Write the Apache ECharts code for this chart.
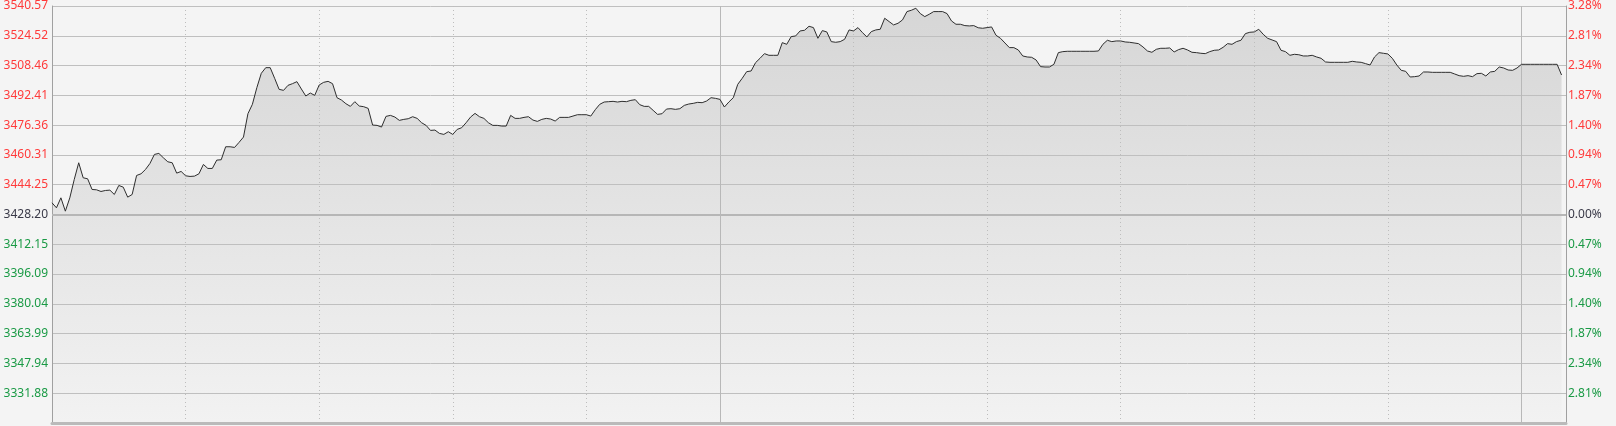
<!DOCTYPE html>
<html>
<head>
<meta charset="utf-8">
<title>分时图</title>
<script src="https://cdn.jsdelivr.net/npm/echarts@6/dist/echarts.min.js"></script>
<style>
 html, body { margin: 0; padding: 0; background: #f4f4f4; }
 #chart { width: 1616px; height: 426px; }
</style>
</head>
<body>
<div id="chart"></div>
<script>
/** 数据 **/
var preClose = 3428.20;
var priceMin = 3315.83;
var priceMax = 3540.57;

// 左侧刻度 (从上到下)
var leftLabels = ['3540.57', '3524.52', '3508.46', '3492.41', '3476.36', '3460.31', '3444.25',
  '3428.20', '3412.15', '3396.09', '3380.04', '3363.99', '3347.94', '3331.88'];
// 右侧刻度 (从上到下)
var rightLabels = ['3.28%', '2.81%', '2.34%', '1.87%', '1.40%', '0.94%', '0.47%',
  '0.00%', '0.47%', '0.94%', '1.40%', '1.87%', '2.34%', '2.81%'];

// 分时价格, 每分钟一个点
var prices = [
  3434.50, 3431.80, 3437.19, 3430.00, 3437.19, 3447.09, 3456.08, 3447.99, 3447.45, 3441.69,
  3441.51, 3440.61, 3441.15, 3441.33, 3438.99, 3443.85, 3442.95, 3437.55, 3438.99, 3449.24,
  3450.14, 3452.48, 3455.72, 3460.58, 3461.12, 3458.78, 3456.62, 3456.08, 3450.50, 3451.40,
  3449.06, 3448.71, 3448.89, 3450.14, 3455.18, 3453.02, 3453.02, 3457.52, 3457.70, 3464.71,
  3464.71, 3464.35, 3467.05, 3469.93, 3482.52, 3487.56, 3496.55, 3504.29, 3507.34, 3507.34,
  3501.59, 3495.65, 3495.11, 3497.81, 3498.71, 3499.79, 3495.83, 3492.05, 3493.67, 3492.41,
  3497.99, 3499.43, 3499.97, 3498.71, 3491.15, 3489.90, 3487.92, 3486.48, 3489.00, 3486.66,
  3486.30, 3485.40, 3476.41, 3476.23, 3475.33, 3481.08, 3481.62, 3480.72, 3478.92, 3479.46,
  3479.82, 3480.90, 3480.00, 3477.66, 3476.23, 3473.53, 3473.71, 3471.91, 3471.37, 3472.81,
  3471.37, 3474.07, 3474.97, 3477.66, 3480.72, 3482.70, 3480.90, 3480.00, 3477.66, 3476.23,
  3476.23, 3475.87, 3475.87, 3481.62, 3480.00, 3480.00, 3480.54, 3480.90, 3479.10, 3478.38,
  3479.46, 3480.00, 3479.64, 3478.56, 3480.54, 3480.54, 3480.54, 3481.26, 3481.98, 3481.98,
  3481.98, 3481.26, 3484.68, 3487.56, 3488.82, 3489.00, 3489.18, 3488.82, 3489.18, 3489.00,
  3489.72, 3490.08, 3487.38, 3486.48, 3486.48, 3484.32, 3482.16, 3482.52, 3485.04, 3485.22,
  3484.86, 3485.22, 3487.02, 3487.74, 3488.10, 3488.64, 3488.46, 3489.36, 3491.15, 3490.79,
  3490.26, 3486.12, 3488.82, 3491.15, 3498.35, 3501.59, 3505.18, 3505.54, 3510.04, 3512.38,
  3514.90, 3514.00, 3514.00, 3514.00, 3520.83, 3519.93, 3524.07, 3524.43, 3527.13, 3527.49,
  3529.65, 3528.93, 3523.17, 3527.31, 3526.59, 3521.37, 3521.01, 3521.37, 3522.63, 3527.67,
  3527.13, 3528.93, 3526.23, 3523.89, 3526.77, 3527.67, 3528.03, 3533.96, 3532.16, 3530.37,
  3531.27, 3533.06, 3537.56, 3538.28, 3539.36, 3536.48, 3534.86, 3536.12, 3537.56, 3537.56,
  3537.56, 3536.48, 3532.52, 3530.73, 3530.73, 3530.01, 3529.83, 3530.01, 3528.84, 3528.57,
  3528.93, 3529.29, 3524.79, 3523.17, 3520.65, 3518.14, 3518.14, 3516.88, 3513.64, 3513.10,
  3512.92, 3511.48, 3507.88, 3507.70, 3507.70, 3509.14, 3515.44, 3515.98, 3516.16, 3516.16,
  3516.16, 3516.16, 3516.16, 3516.16, 3516.16, 3516.34, 3519.93, 3522.09, 3521.37, 3521.73,
  3521.73, 3521.19, 3521.01, 3520.65, 3520.29, 3518.50, 3516.34, 3515.62, 3517.24, 3517.78,
  3517.78, 3517.96, 3515.80, 3517.06, 3517.78, 3516.88, 3515.62, 3515.44, 3515.08, 3514.90,
  3515.98, 3516.70, 3516.88, 3518.31, 3520.29, 3519.93, 3521.37, 3522.09, 3525.69, 3526.41,
  3526.59, 3528.03, 3525.33, 3523.17, 3522.27, 3521.37, 3516.70, 3515.98, 3514.00, 3514.54,
  3514.30, 3513.64, 3513.64, 3514.00, 3513.10, 3512.38, 3510.40, 3510.22, 3510.22, 3510.22,
  3510.22, 3510.22, 3510.76, 3510.40, 3510.22, 3509.50, 3508.78, 3513.10, 3515.44, 3515.08,
  3514.72, 3512.38, 3508.78, 3505.90, 3505.36, 3502.31, 3502.49, 3502.85, 3505.00, 3505.00,
  3504.82, 3504.82, 3504.82, 3504.82, 3504.82, 3503.93, 3503.03, 3502.67, 3503.03, 3502.49,
  3504.11, 3504.29, 3502.85, 3505.00, 3505.36, 3507.70, 3507.16, 3506.08, 3505.90, 3507.16,
  3509.14, 3509.14, 3509.14, 3509.14, 3509.14, 3509.14, 3509.14, 3509.14, 3509.14, 3503.39
];

// 实线分隔的分钟位置
var sessionBreaks = [150, 330];

/** 绘制 **/
var chart = echarts.init(document.getElementById('chart'));

var lineData = prices.map(function(p, i) { return [i, p]; });

function labelColor(index) {
  if (index < 7) return '#ff3a3a';
  if (index === 7) return '#3a3a48';
  return '#1a9a45';
}

var option = {
  backgroundColor: '#f4f4f4',
  animation: false,
  grid: {
    left: 52,
    right: 50,
    top: 5,
    bottom: 3
  },
  xAxis: {
    type: 'value',
    z: 3,
    min: 0,
    max: 340,
    interval: 30,
    axisLine: { show: true, onZero: false, lineStyle: { color: '#bababa', width: 3 } },
    axisTick: { show: false },
    axisLabel: { show: false },
    splitLine: { show: true, lineStyle: { color: '#bdbdbd', type: [1, 3], width: 1 } }
  },
  yAxis: [
    {
      // 左侧价格刻度
      type: 'value',
      z: 3,
      min: 0,
      max: 14,
      interval: 1,
      position: 'left',
      axisLine: { show: true, lineStyle: { color: '#a0a0a0', width: 1 } },
      axisTick: { show: false },
      splitLine: { show: true, lineStyle: { color: '#bfbfbf', width: 1 } },
      axisLabel: {
        margin: 4,
        fontFamily: 'Noto Sans',
        fontSize: 12,
        padding: [3, 0, 0, 0],
        formatter: function(v) {
          var idx = 14 - v;
          return idx < leftLabels.length ? leftLabels[idx] : '';
        },
        color: function(v) { return labelColor(14 - v); }
      }
    },
    {
      // 右侧涨跌幅
      type: 'value',
      z: 3,
      min: 0,
      max: 14,
      interval: 1,
      position: 'right',
      axisLine: { show: true, lineStyle: { color: '#a0a0a0', width: 1 } },
      axisTick: { show: false },
      splitLine: { show: false },
      axisLabel: {
        margin: 2,
        fontFamily: 'Noto Sans',
        fontSize: 12,
        padding: [3, 0, 0, 0],
        formatter: function(v) {
          var idx = 14 - v;
          return idx < rightLabels.length ? rightLabels[idx] : '';
        },
        color: function(v) { return labelColor(14 - v); }
      }
    },
    {
      // 价格 (隐藏)
      type: 'value',
      min: priceMin,
      max: priceMax,
      show: false,
      splitLine: { show: false }
    }
  ],
  series: [
    {
      // 填充区域, 在网格线之下
      type: 'line',
      z: 1,
      yAxisIndex: 2,
      data: lineData,
      showSymbol: false,
      symbol: 'none',
      silent: true,
      lineStyle: { width: 0 },
      areaStyle: {
        origin: 'start',
        opacity: 1,
        color: new echarts.graphic.LinearGradient(0, 0, 0, 1, [
          { offset: 0, color: '#d6d6d6' },
          { offset: 1, color: '#f2f2f2' }
        ])
      }
    },
    {
      // 价格线
      type: 'line',
      z: 5,
      yAxisIndex: 2,
      data: lineData,
      showSymbol: false,
      symbol: 'none',
      lineStyle: { color: '#2e2e2e', width: 1 },
      markLine: {
        silent: true,
        symbol: 'none',
        label: { show: false },
        data: [
          { yAxis: preClose, lineStyle: { color: '#b6b6b6', width: 2, type: 'solid' } }
        ].concat(sessionBreaks.map(function(x) {
          return { xAxis: x, lineStyle: { color: '#b8b8b8', width: 1, type: 'solid' } };
        }))
      }
    }
  ]
};

chart.setOption(option);
</script>
</body>
</html>
